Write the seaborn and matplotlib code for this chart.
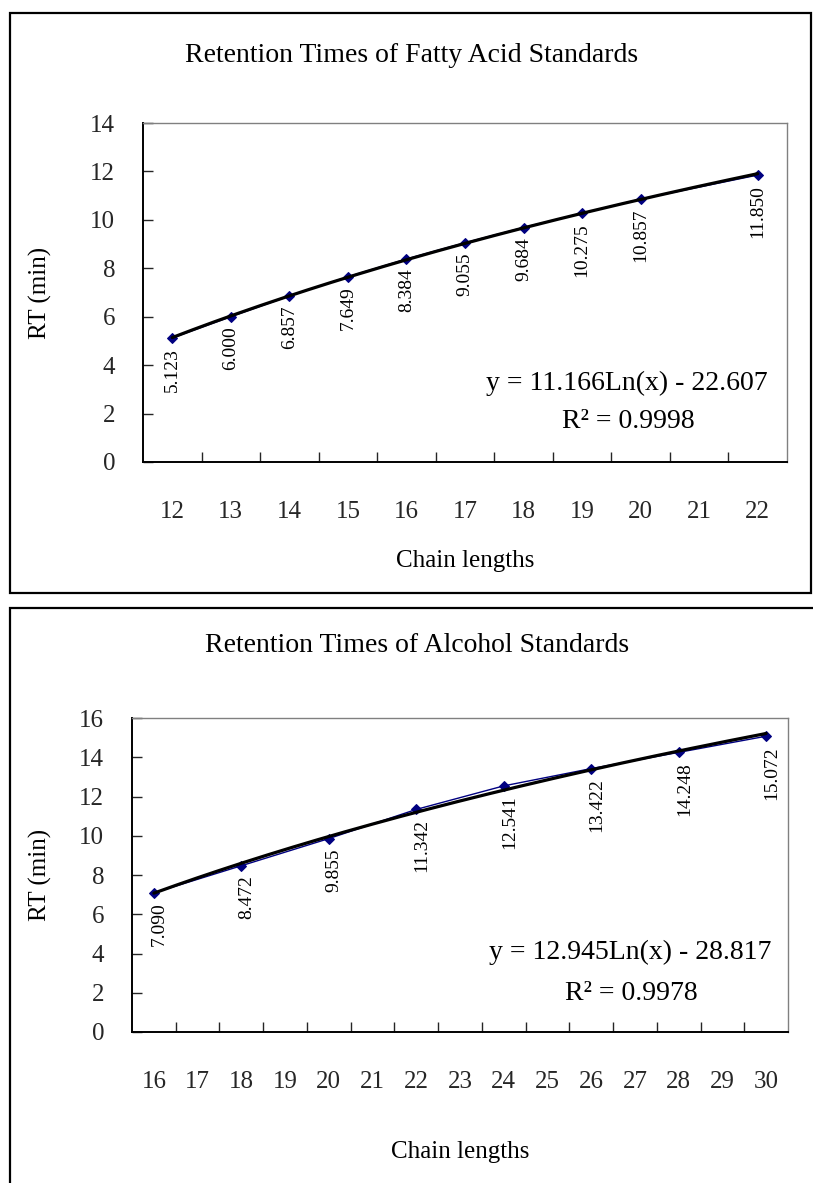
import numpy as np
import pandas as pd
import matplotlib
matplotlib.use("Agg")
import matplotlib.pyplot as plt
from matplotlib.patches import Rectangle
import seaborn as sns

# ---------------- data ----------------
fa_chain = [12, 13, 14, 15, 16, 17, 18, 19, 20, 22]
fa_rt = [5.123, 6.000, 6.857, 7.649, 8.384, 9.055, 9.684, 10.275, 10.857, 11.850]
fa_cats = list(range(12, 23))

al_chain = [16, 18, 20, 22, 24, 26, 28, 30]
al_rt = [7.090, 8.472, 9.855, 11.342, 12.541, 13.422, 14.248, 15.072]
al_cats = list(range(16, 31))

titles = ["Retention Times of Fatty Acid Standards", "Retention Times of Alcohol Standards"]
eq_texts = ["y = 11.166Ln(x) - 22.607", "y = 12.945Ln(x) - 28.817"]
r2_texts = ["R\u00b2 = 0.9998", "R\u00b2 = 0.9978"]

sns.set_theme(style="white")
plt.rcParams['font.family'] = ['Liberation Serif', 'DejaVu Serif']
plt.rcParams['text.color'] = 'black'

W, H = 813, 1183
fig = plt.figure(figsize=(W / 100, H / 100), dpi=100)
fig.patch.set_facecolor('white')


def fx(x):
    return x / W


def fy(y):
    return 1 - y / H


# outer boxes
fig.patches.append(Rectangle((fx(10), fy(593)), fx(811) - fx(10), fy(13) - fy(593),
                             transform=fig.transFigure, fill=False, ec='black', lw=1.6))
fig.patches.append(Rectangle((fx(10), fy(1250)), fx(900) - fx(10), fy(608) - fy(1250),
                             transform=fig.transFigure, fill=False, ec='black', lw=1.6))

panels = [
    dict(chain=fa_chain, rt=fa_rt, cats=fa_cats, box=(143, 123, 787, 462), ymax=14,
         title_y=56, title_x=412, xlabel_y=561, eq=(627, 383), r2=(628, 422), lab_dx=0),
    dict(chain=al_chain, rt=al_rt, cats=al_cats, box=(132, 718, 788, 1032), ymax=16,
         title_y=645, title_x=417, xlabel_y=1152, eq=(630, 952), r2=(631, 993), lab_dx=4),
]

for i, p in enumerate(panels):
    l, t, r, b = p['box']
    ax = fig.add_axes([fx(l), fy(b), fx(r) - fx(l), fy(t) - fy(b)])
    ax.set_facecolor('white')
    df = pd.DataFrame({'chain': p['chain'], 'rt': p['rt']})
    sns.lineplot(data=df, x='chain', y='rt', ax=ax, color='#000080', lw=1.0,
                 marker='D', markersize=5.5, markeredgecolor='#000080', zorder=3)
    # logarithmic trend line fitted to the data
    a, c = np.polyfit(np.log(df['chain']), df['rt'], 1)
    xs = np.linspace(min(p['chain']), max(p['chain']), 200)
    ax.plot(xs, a * np.log(xs) + c, color='black', lw=2.3, zorder=4)
    # data labels
    for xv, yv in zip(p['chain'], p['rt']):
        ax.annotate(f"{yv:.3f}", (xv, yv), xytext=(p['lab_dx'], -7), textcoords='offset points',
                    rotation=90, ha='center', va='top', fontsize=14, zorder=5)
    cats = p['cats']
    ax.set_xlim(cats[0] - 0.5, cats[-1] + 0.5)
    ax.set_ylim(0, p['ymax'])
    ax.set_xticks(cats)
    ax.set_xticklabels([str(c_) for c_ in cats])
    ax.set_xticks([c_ + 0.5 for c_ in cats[:-1]], minor=True)
    ax.set_yticks(range(0, p['ymax'] + 1, 2))
    ax.tick_params(axis='x', which='major', length=0, pad=28, labelsize=18)
    ax.tick_params(axis='x', which='minor', length=7, width=1, direction='in', bottom=True)
    ax.tick_params(axis='y', which='major', length=7, width=1, direction='in', left=True,
                   pad=20, labelsize=18)
    ax.set_xlabel('')
    ax.set_ylabel('')
    for s in ['left', 'bottom']:
        ax.spines[s].set_color('black')
        ax.spines[s].set_linewidth(1.4)
    for s in ['top', 'right']:
        ax.spines[s].set_color('#808080')
        ax.spines[s].set_linewidth(1.0)
    # texts
    fig.text(fx(p['title_x']), fy(p['title_y']), titles[i], ha='center', va='center', fontsize=20)
    fig.text(fx((l + r) / 2), fy(p['xlabel_y']), 'Chain lengths', ha='center', va='center', fontsize=18)
    fig.text(fx(40), fy((t + b) / 2), 'RT (min)', ha='center', va='center', rotation=90, fontsize=18)
    fig.text(fx(p['eq'][0]), fy(p['eq'][1]), eq_texts[i], ha='center', va='center', fontsize=20)
    fig.text(fx(p['r2'][0]), fy(p['r2'][1]), r2_texts[i], ha='center', va='center', fontsize=20)

fig.savefig('out.png', dpi=100, facecolor='white')
